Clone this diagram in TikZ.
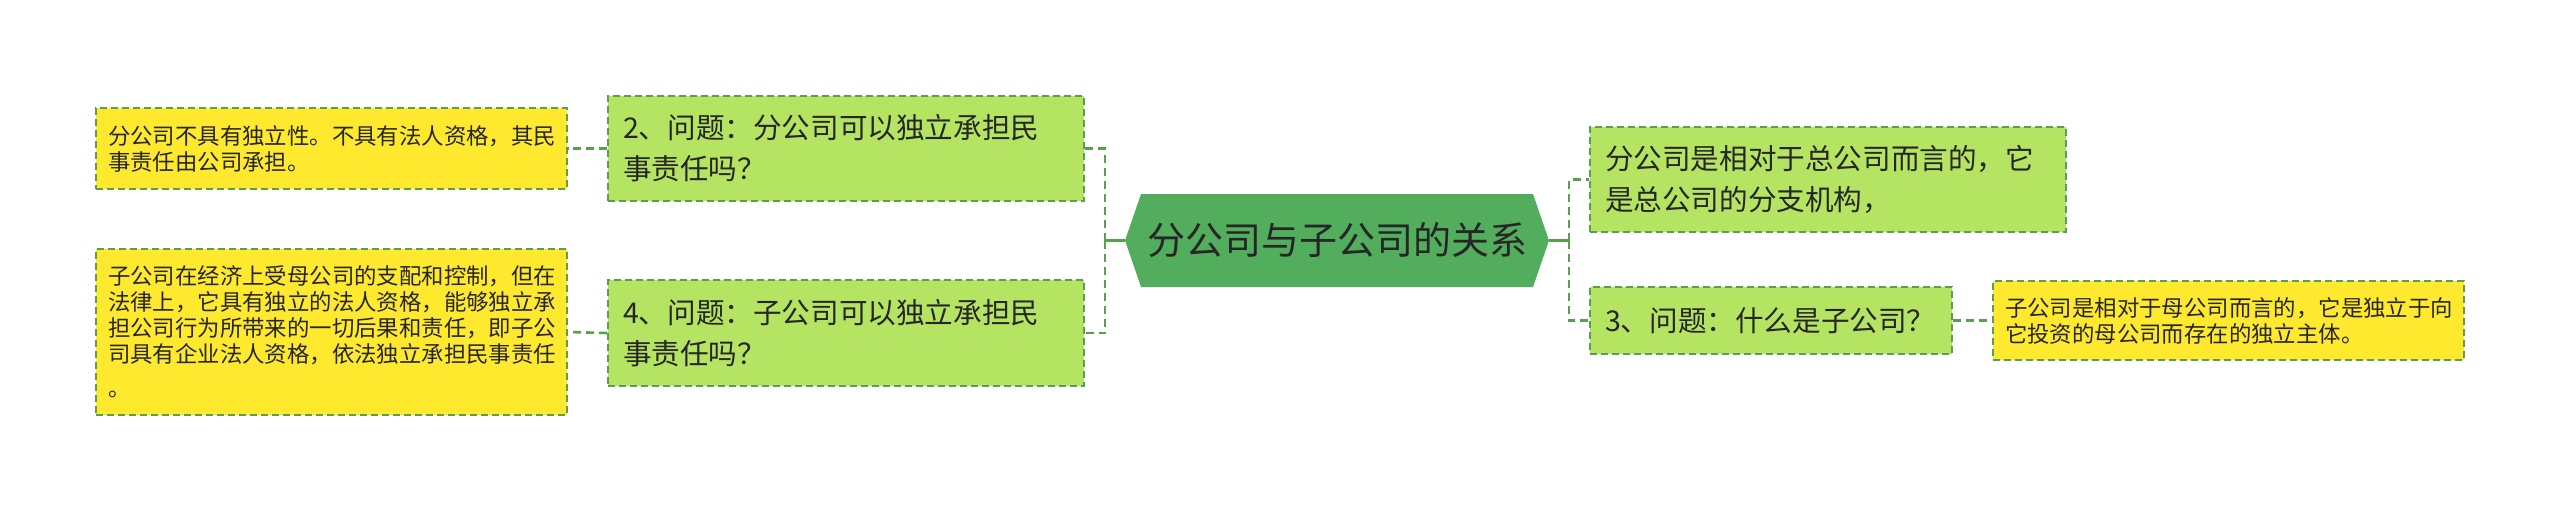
\documentclass[tikz,border=0pt]{standalone}
\usepackage{fontspec}
\setmainfont{Noto Sans CJK SC}
\usetikzlibrary{shapes.symbols}
\definecolor{ybox}{HTML}{FFE92E}
\definecolor{gbox}{HTML}{B4E462}
\definecolor{rootg}{HTML}{52AD5D}
\definecolor{edgec}{HTML}{58A04D}
\definecolor{txt}{HTML}{262626}
\begin{document}
\begin{tikzpicture}[x=1pt,y=-1pt,
  yellowbox/.style={draw=edgec, fill=ybox, dash pattern=on 7pt off 4pt, line width=1.6pt,
    inner xsep=12pt, inner ysep=0pt, align=left, text=txt,
    font=\fontsize{22.4}{26}\selectfont, text width=447pt, minimum width=471pt},
  greenbox/.style={draw=edgec, fill=gbox, dash pattern=on 7pt off 4pt, line width=1.6pt,
    inner xsep=15pt, inner ysep=0pt, align=left, text=txt,
    font=\fontsize{28.6}{41}\selectfont},
  rootbox/.style={shape=signal, signal to=west and east, signal pointer angle=142,
    fill=rootg, minimum width=424pt, minimum height=93pt, inner sep=0pt,
    font=\fontsize{38}{40}\selectfont, text=txt},
  solidconn/.style={draw=edgec, line width=2.6pt},
  dashconn/.style={draw=edgec, line width=2.6pt, dash pattern=on 8pt off 5pt},
]
\useasboundingbox (0,0) rectangle (2560,512);

% root
\node[rootbox] (root) at (1337,240.5) {分公司与子公司的关系};

% left side
\node[greenbox, text width=446pt, minimum width=476pt, minimum height=105pt] (g2) at (846,148.5)
  {2、问题：分公司可以独立承担民\\事责任吗？};
\node[greenbox, text width=446pt, minimum width=476pt, minimum height=106pt] (g4) at (846,333)
  {4、问题：子公司可以独立承担民\\事责任吗？};
\node[yellowbox, minimum height=81pt] (y1) at (331.5,148.5)
  {分公司不具有独立性。不具有法人资格，其民\\事责任由公司承担。};
\node[yellowbox, minimum height=166pt] (y2) at (331.5,332)
  {子公司在经济上受母公司的支配和控制，但在\\法律上，它具有独立的法人资格，能够独立承\\担公司行为所带来的一切后果和责任，即子公\\司具有企业法人资格，依法独立承担民事责任\\[8pt]。};

% right side
\node[greenbox, text width=446pt, minimum width=476pt, minimum height=105pt] (r1) at (1828,179.5)
  {分公司是相对于总公司而言的，它\\是总公司的分支机构，};
\node[greenbox, text width=332pt, minimum width=362pt, minimum height=67pt] (g3) at (1771,320.5)
  {3、问题：什么是子公司？};
\node[yellowbox, minimum height=79pt] (y3) at (2228.5,320.5)
  {子公司是相对于母公司而言的，它是独立于向\\它投资的母公司而存在的独立主体。};

% junctions
\coordinate (jl) at (1105,240.5);
\coordinate (jr) at (1569,240.5);

\draw[solidconn] (root.west) -- (jl);
\draw[solidconn] ([yshift=-6.5pt]jl) -- ([yshift=6.5pt]jl);
\draw[dashconn] (jl) |- (g2.east);
\draw[dashconn] (jl) |- (g4.east);

\draw[solidconn] (root.east) -- (jr);
\draw[solidconn] ([yshift=-6.5pt]jr) -- ([yshift=6.5pt]jr);
\draw[dashconn] (jr) |- (r1.west);
\draw[dashconn] (jr) |- (g3.west);

\draw[dashconn] (g2.west) -- (y1.east);
\draw[dashconn] (g4.west) -- (y2.east);
\draw[dashconn] (g3.east) -- (y3.west);
\end{tikzpicture}
\end{document}
